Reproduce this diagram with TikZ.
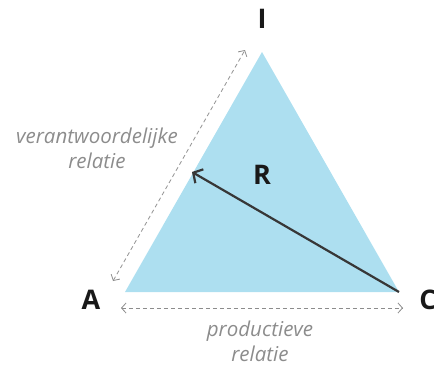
\documentclass[tikz,border=0pt]{standalone}
\usepackage{fontspec}
\setmainfont{Open Sans}
\usetikzlibrary{arrows.meta}
\definecolor{triblue}{RGB}{173,223,240}
\definecolor{relgray}{RGB}{140,140,140}
\definecolor{arrowgray}{RGB}{55,55,55}
\tikzset{
  corner/.style={font=\bfseries\fontsize{27}{27}\selectfont,text=black!90},
  reltext/.style={font=\itshape\fontsize{20.5}{25}\selectfont,text=relgray,align=center},
  relline/.style={<->,relgray,line width=0.8pt,dash pattern=on 4pt off 3pt},
}

\begin{document}
\begin{tikzpicture}[x=1pt,y=-1pt,>={Straight Barb[length=4.5pt,width=10pt]}]
  \useasboundingbox (0,0) rectangle (434,367);
  % triangle corners
  \coordinate (I) at (262,52);
  \coordinate (A) at (125,292);
  \coordinate (C) at (399,292);
  \fill[triblue] (I)--(A)--(C)--cycle;
  % corner labels
  \node[corner] (lI) at (262,19) {I};
  \node[corner] (lA) at (91,300) {A};
  \node[corner] (lC) at (428,300) {C};
  \node[corner] (lR) at (262,175) {R};
  % relation arrows
  \coordinate (vlo) at (113,281);
  \coordinate (vhi) at (245,50);
  \draw[relline] (vlo)--(vhi);
  \coordinate (plo) at (121,308);
  \coordinate (phi) at (403,308);
  \draw[relline] (plo)--(phi);
  \node[reltext] (verant) at (97,148) {verantwoordelijke\\relatie};
  \node[reltext] (product) at (260,341) {productieve\\relatie};
  % arrow from C
  \coordinate (Rhead) at (192,172);
  \draw[-{Straight Barb[length=7pt,width=16pt]},arrowgray,line width=2.2pt] (C)--(Rhead);
\end{tikzpicture}
\end{document}
